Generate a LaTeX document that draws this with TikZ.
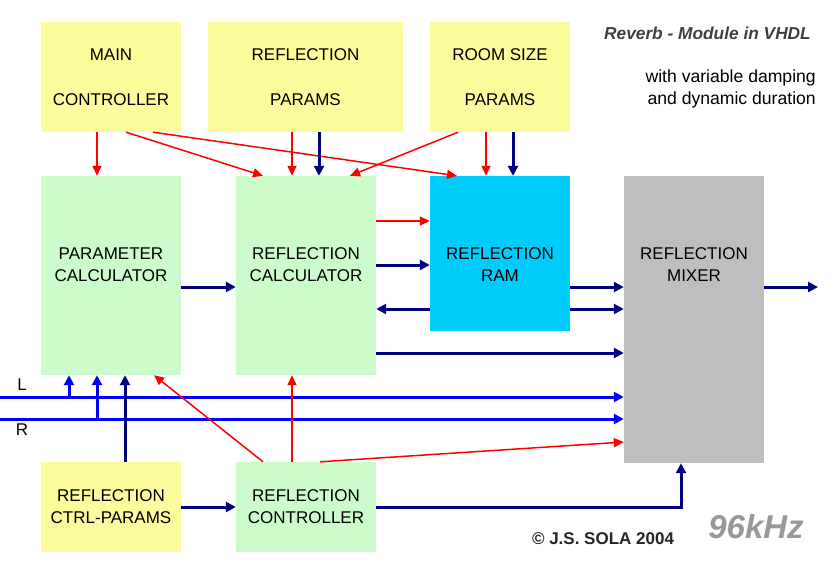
\documentclass[tikz,border=0pt]{standalone}
\usepackage{fontspec}
\setmainfont{Liberation Sans}
\usetikzlibrary{arrows.meta}
\definecolor{padyellow}{RGB}{252,252,156}
\definecolor{padgreen}{RGB}{204,252,204}
\definecolor{ramcyan}{RGB}{0,204,252}
\definecolor{mixgray}{RGB}{190,190,190}
\definecolor{busnavy}{RGB}{0,0,128}

\begin{document}
\begin{tikzpicture}[x=1pt,y=-1pt,font=\fontsize{17}{22}\selectfont]
\tikzstyle{param node}=[rectangle,fill=padyellow,inner sep=0,minimum width=140pt,align=center]
\tikzstyle{top node}=[param node,minimum height=110pt,font=\fontsize{17}{45}\selectfont]
\tikzstyle{calc node}=[rectangle,fill=padgreen,inner sep=0,minimum width=140pt,align=center]
\tikzstyle{ram node}=[rectangle,fill=ramcyan,inner sep=0,minimum width=140pt,align=center]
\tikzstyle{mix node}=[rectangle,fill=mixgray,inner sep=0,minimum width=140pt,align=center]
\tikzstyle{note node}=[inner sep=0,align=center]
\tikzset{
  ctrl arrow/.style = {draw=red, line width=1.5pt, -{Triangle[length=10pt,width=9pt]}},
  data arrow/.style = {draw=busnavy, line width=3pt, -{Triangle[length=10pt,width=10pt]}},
  bus arrow/.style  = {draw=blue, line width=3pt, -{Triangle[length=10pt,width=10pt]}}
}
\useasboundingbox[fill=white] (0,0) rectangle (835,571);

    \node[top node]                   (mc)   at (111,77)    {MAIN\\CONTROLLER};
    \node[top node,minimum width=195pt] (rp) at (305.5,77)  {REFLECTION\\PARAMS};
    \node[top node]                   (rs)   at (500,77)    {ROOM SIZE\\PARAMS};
    \node[calc node,minimum height=199pt,label={[note node,yshift=10.5pt]center:PARAMETER\\CALCULATOR}]  (pc)  at (111,275.5) {};
    \node[calc node,minimum height=199pt,label={[note node,yshift=10.5pt]center:REFLECTION\\CALCULATOR}] (rc)  at (306,275.5) {};
    \node[ram node,minimum height=155pt,label={[note node,yshift=-11.5pt]center:REFLECTION\\RAM}]        (ram) at (500,253.5) {};
    \node[mix node,minimum height=287pt,label={[note node,yshift=54.5pt]center:REFLECTION\\MIXER}]       (mix) at (694,319.5) {};
    \node[param node,minimum height=90pt] (cp)   at (111,507)   {REFLECTION\\CTRL-PARAMS};
    \node[calc node,minimum height=90pt]  (rctl) at (306,507)   {REFLECTION\\CONTROLLER};
    %%%%%%%%%%%%%%%%%%%%%%%%%%%%%%%%%%%%%%%%%%
    \coordinate (lin) at (0,397);
    \coordinate (rin) at (0,419);
    \coordinate (out) at (818,287);
    \node[note node] (ltxt) at (22,385) {L};
    \node[note node] (rtxt) at (22,430) {R};
    \node[note node,anchor=east,text=black!75,font=\fontsize{17.3}{20}\selectfont\bfseries\itshape] (title) at (811,33) {Reverb - Module in VHDL};
    \node[note node,anchor=east,align=right,font=\fontsize{17.6}{22}\selectfont] (sub) at (816,89) {with variable damping\\and dynamic duration};
    \node[note node,text=black!85,font=\fontsize{17}{20}\selectfont\bfseries] (copy) at (603,539) {\textcopyright{} J.S. SOLA 2004};
    \node[note node,text=black!40,font=\fontsize{33}{36}\selectfont\bfseries\itshape] (freq) at (756,527) {96kHz};

    % L / R inputs
    \draw[bus arrow] (lin) -- (lin -| mix.west);
    \draw[bus arrow] (rin) -- (rin -| mix.west);
    \draw[bus arrow] ([xshift=-42pt]pc.south) ++(0,22) -- ([xshift=-42pt]pc.south);
    \draw[bus arrow] ([xshift=-14pt]pc.south) ++(0,44) -- ([xshift=-14pt]pc.south);

    \path[every edge/.style={ctrl arrow}]
         ([xshift=-14pt]mc.south)   edge ([xshift=-14pt]pc.north)
         ([xshift=15pt]mc.south)    edge ([xshift=-43pt]rc.north)
         ([xshift=42pt]mc.south)    edge ([xshift=-43pt]ram.north)
         ([xshift=-13.5pt]rp.south) edge ([xshift=-14pt]rc.north)
         ([xshift=-42pt]rs.south)   edge ([xshift=44pt]rc.north)
         ([xshift=-14pt]rs.south)   edge ([xshift=-14pt]ram.north)
         ([yshift=54.5pt]rc.east)   edge ([yshift=32.5pt]ram.west)
         ([xshift=-43pt]rctl.north) edge ([xshift=43pt]pc.south)
         ([xshift=-14pt]rctl.north) edge ([xshift=-14pt]rc.south)
         ([xshift=14pt]rctl.north)  edge ([yshift=-122.5pt]mix.west);

    \path[every edge/.style={data arrow}]
         ([xshift=13.5pt]rp.south)  edge ([xshift=13pt]rc.north)
         ([xshift=13pt]rs.south)    edge ([xshift=13pt]ram.north)
         ([yshift=-11.5pt]pc.east)  edge ([yshift=-11.5pt]rc.west)
         ([yshift=10.5pt]rc.east)   edge ([yshift=-11.5pt]ram.west)
         ([yshift=-55.5pt]ram.west) edge ([yshift=-33.5pt]rc.east)
         ([yshift=-33.5pt]ram.east) edge ([yshift=32.5pt]mix.west)
         ([yshift=-55.5pt]ram.east) edge ([yshift=10.5pt]mix.west)
         ([yshift=-77.5pt]rc.east)  edge ([yshift=-33.5pt]mix.west)
         ([yshift=32.5pt]mix.east)  edge (out)
         ([xshift=14pt]cp.north)    edge ([xshift=14pt]pc.south)
         (cp.east)                  edge (rctl.west);
    \draw[data arrow] (rctl.east) -| ([xshift=-13pt]mix.south);
\end{tikzpicture}
\end{document}
